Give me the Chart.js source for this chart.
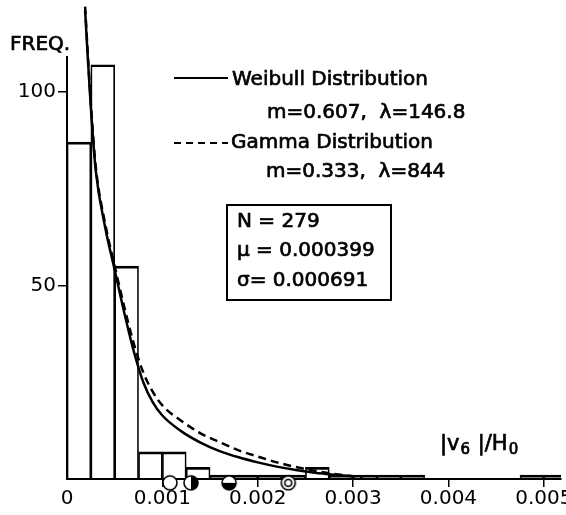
<!DOCTYPE html>
<html lang="en">
<head>
<meta charset="UTF-8">
<title>Frequency of |v6|/H0</title>
<script src="https://cdn.jsdelivr.net/npm/chart.js"></script>
<style>
  html, body { margin: 0; padding: 0; background: #fff; }
</style>
</head>
<body>
<canvas id="histChart" width="566" height="515"></canvas>
<script>
// histogram: left edge of every bin and its count
const binWidth = 0.00025;
const binLeft = [0, 0.00025, 0.0005, 0.00075, 0.001, 0.00125, 0.0015, 0.00175, 0.002, 0.00225,
                 0.0025, 0.00275, 0.003, 0.00325, 0.0035, 0.00375, 0.004, 0.00425, 0.0045, 0.00475, 0.005];
const counts = [87, 107, 55, 7, 7, 3, 1, 1, 1, 1,
                3, 1, 1, 1, 1, 0, 0, 0, 0, 1, 1];

// fitted curves
const weibullX = [0.00019, 0.00022, 0.00025, 0.0003, 0.0004, 0.0005, 0.0006, 0.0007, 0.0008, 0.0009,
                  0.001, 0.0012, 0.0014, 0.0016, 0.0018, 0.002, 0.0022, 0.0024, 0.0026, 0.0028, 0.003];
const weibullY = [121, 108, 96, 80, 65, 54, 43, 33, 25, 19.8,
                  16.4, 12.3, 9.4, 7.2, 5.6, 4.3, 3.2, 2.3, 1.6, 1.1, 0.7];
const gammaX = [0.00019, 0.00022, 0.00025, 0.0003, 0.0004, 0.0005, 0.0006, 0.0007, 0.0008, 0.0009,
                0.001, 0.0012, 0.0014, 0.0016, 0.0018, 0.002, 0.0022, 0.0024, 0.0026, 0.0028, 0.003, 0.0031];
const gammaY = [122, 109, 97, 81, 66, 55, 44.5, 35, 27.5, 22.5,
                19, 15, 11.8, 9.5, 7.4, 5.8, 4.3, 3.1, 2.1, 1.3, 0.7, 0.5];

// small circles sitting on the axis
const markerX = [0.00108, 0.0013, 0.0017, 0.00232];
const markerY = [-1, -1, -1, -1];
const markerKind = ['open', 'halfRight', 'halfBottom', 'double'];

const xTicks = [0, 0.001, 0.002, 0.003, 0.004, 0.005];
const yTicks = [50, 100];

const FONT = '"DejaVu Sans", sans-serif';

function makeMarker(kind) {
    const c = document.createElement('canvas');
    c.width = 18;
    c.height = 18;
    const g = c.getContext('2d');
    const r = 7;
    g.beginPath();
    g.arc(9, 9, r, 0, 2 * Math.PI);
    g.fillStyle = '#fff';
    g.fill();
    g.fillStyle = '#000';
    if (kind === 'halfRight') {
        g.beginPath(); g.moveTo(9, 9); g.arc(9, 9, r, -Math.PI / 2, Math.PI / 2); g.closePath(); g.fill();
    }
    if (kind === 'halfBottom') {
        g.beginPath(); g.moveTo(9, 9); g.arc(9, 9, r, 0, Math.PI); g.closePath(); g.fill();
    }
    g.lineWidth = 1.6;
    g.strokeStyle = '#000';
    g.beginPath();
    g.arc(9, 9, r, 0, 2 * Math.PI);
    g.stroke();
    if (kind === 'double') {
        g.beginPath(); g.arc(9, 9, 3.5, 0, 2 * Math.PI); g.stroke();
    }
    return c;
}

// lettering is heavier than a plain font, so fill and stroke a little
function letter(c, text, x, y) {
    c.fillText(text, x, y);
    c.strokeText(text, x, y);
}

// legend, stats box and labels drawn as text on top
const annotations = {
    id: 'annotations',
    afterDraw(chart) {
        const c = chart.ctx;
        c.save();
        c.fillStyle = '#000';
        c.strokeStyle = '#000';
        c.textBaseline = 'middle';
        c.lineWidth = 0.7;
        c.font = '20px ' + FONT;
        letter(c, 'FREQ.', 10, 45);

        letter(c, 'Weibull Distribution', 232, 80);
        letter(c, 'm=0.607,  \u03bb=146.8', 267, 113);
        letter(c, 'Gamma Distribution', 231, 143);
        letter(c, 'm=0.333,  \u03bb=844', 266, 172);
        letter(c, 'N = 279', 237, 222);
        letter(c, '\u03bc = 0.000399', 237, 251);
        letter(c, '\u03c3= 0.000691', 237, 281);

        c.lineWidth = 2;
        c.beginPath(); c.moveTo(174, 78); c.lineTo(228, 78); c.stroke();
        c.setLineDash([7, 5]);
        c.beginPath(); c.moveTo(174, 143); c.lineTo(228, 143); c.stroke();
        c.setLineDash([]);
        c.strokeRect(227, 205, 164, 95);

        // axis title |v6|/H0 with subscripts
        c.lineWidth = 0.7;
        let x = 440;
        const parts = [['|v', 21, 0], ['6', 15, 5], [' |/H', 21, 0], ['0', 15, 5]];
        parts.forEach(p => {
            c.font = p[1] + 'px ' + FONT;
            letter(c, p[0], x, 445 + p[2]);
            x += c.measureText(p[0]).width + 1;
        });
        c.restore();
    }
};

const ctx = document.getElementById('histChart').getContext('2d');

new Chart(ctx, {
    type: 'bar',
    data: {
        datasets: [
            {
                type: 'line',
                label: 'Weibull Distribution',
                data: weibullX.map((v, i) => ({ x: v, y: weibullY[i] })),
                borderColor: '#000',
                borderWidth: 2.5,
                pointRadius: 0,
                cubicInterpolationMode: 'monotone',
                fill: false,
                clip: false,
                order: 1
            },
            {
                type: 'line',
                label: 'Gamma Distribution',
                data: gammaX.map((v, i) => ({ x: v, y: gammaY[i] })),
                borderColor: '#000',
                borderWidth: 2.5,
                borderDash: [8, 5],
                pointRadius: 0,
                cubicInterpolationMode: 'monotone',
                fill: false,
                clip: false,
                order: 1
            },
            {
                type: 'scatter',
                label: 'markers',
                data: markerX.map((v, i) => ({ x: v, y: markerY[i] })),
                pointStyle: markerKind.map(makeMarker),
                clip: false,
                order: 0
            },
            {
                label: 'FREQ.',
                data: binLeft.map((v, i) => ({ x: v + binWidth / 2, y: counts[i] })),
                backgroundColor: 'rgba(255,255,255,0)',
                borderColor: '#000',
                borderWidth: { top: 2, left: 1, right: 1, bottom: 0 },
                barPercentage: 1,
                categoryPercentage: 1,
                order: 3
            }
        ]
    },
    options: {
        responsive: false,
        animation: false,
        layout: { padding: { top: 57, right: 0, bottom: 4, left: 0 } },
        plugins: { legend: { display: false }, tooltip: { enabled: false } },
        scales: {
            x: {
                type: 'linear',
                min: 0,
                max: 0.00518,
                offset: false,
                afterBuildTicks: s => { s.ticks = xTicks.map(v => ({ value: v })); },
                afterFit: s => { s.paddingRight = 0; s.paddingLeft = 0; },
                border: { display: true, color: '#000', width: 2 },
                grid: {
                    offset: false,
                    drawOnChartArea: false,
                    tickLength: 8,
                    lineWidth: 1.5,
                    color: c => (c.tick && c.tick.value === 0 ? 'rgba(0,0,0,0)' : '#000')
                },
                ticks: {
                    color: '#000',
                    padding: 0,
                    font: { family: FONT, size: 20 },
                    maxRotation: 0,
                    callback: v => (v === 0 ? '0' : v.toFixed(3))
                }
            },
            y: {
                min: 0,
                max: 109,
                afterBuildTicks: s => { s.ticks = yTicks.map(v => ({ value: v })); },
                afterFit: s => { s.width = 67; },
                border: { display: true, color: '#000', width: 2 },
                grid: { drawOnChartArea: false, tickLength: 9, lineWidth: 1.5, color: '#000' },
                ticks: {
                    color: '#000',
                    padding: 2,
                    font: { family: FONT, size: 20 },
                    callback: v => String(v)
                }
            }
        }
    },
    plugins: [annotations]
});
</script>
</body>
</html>
